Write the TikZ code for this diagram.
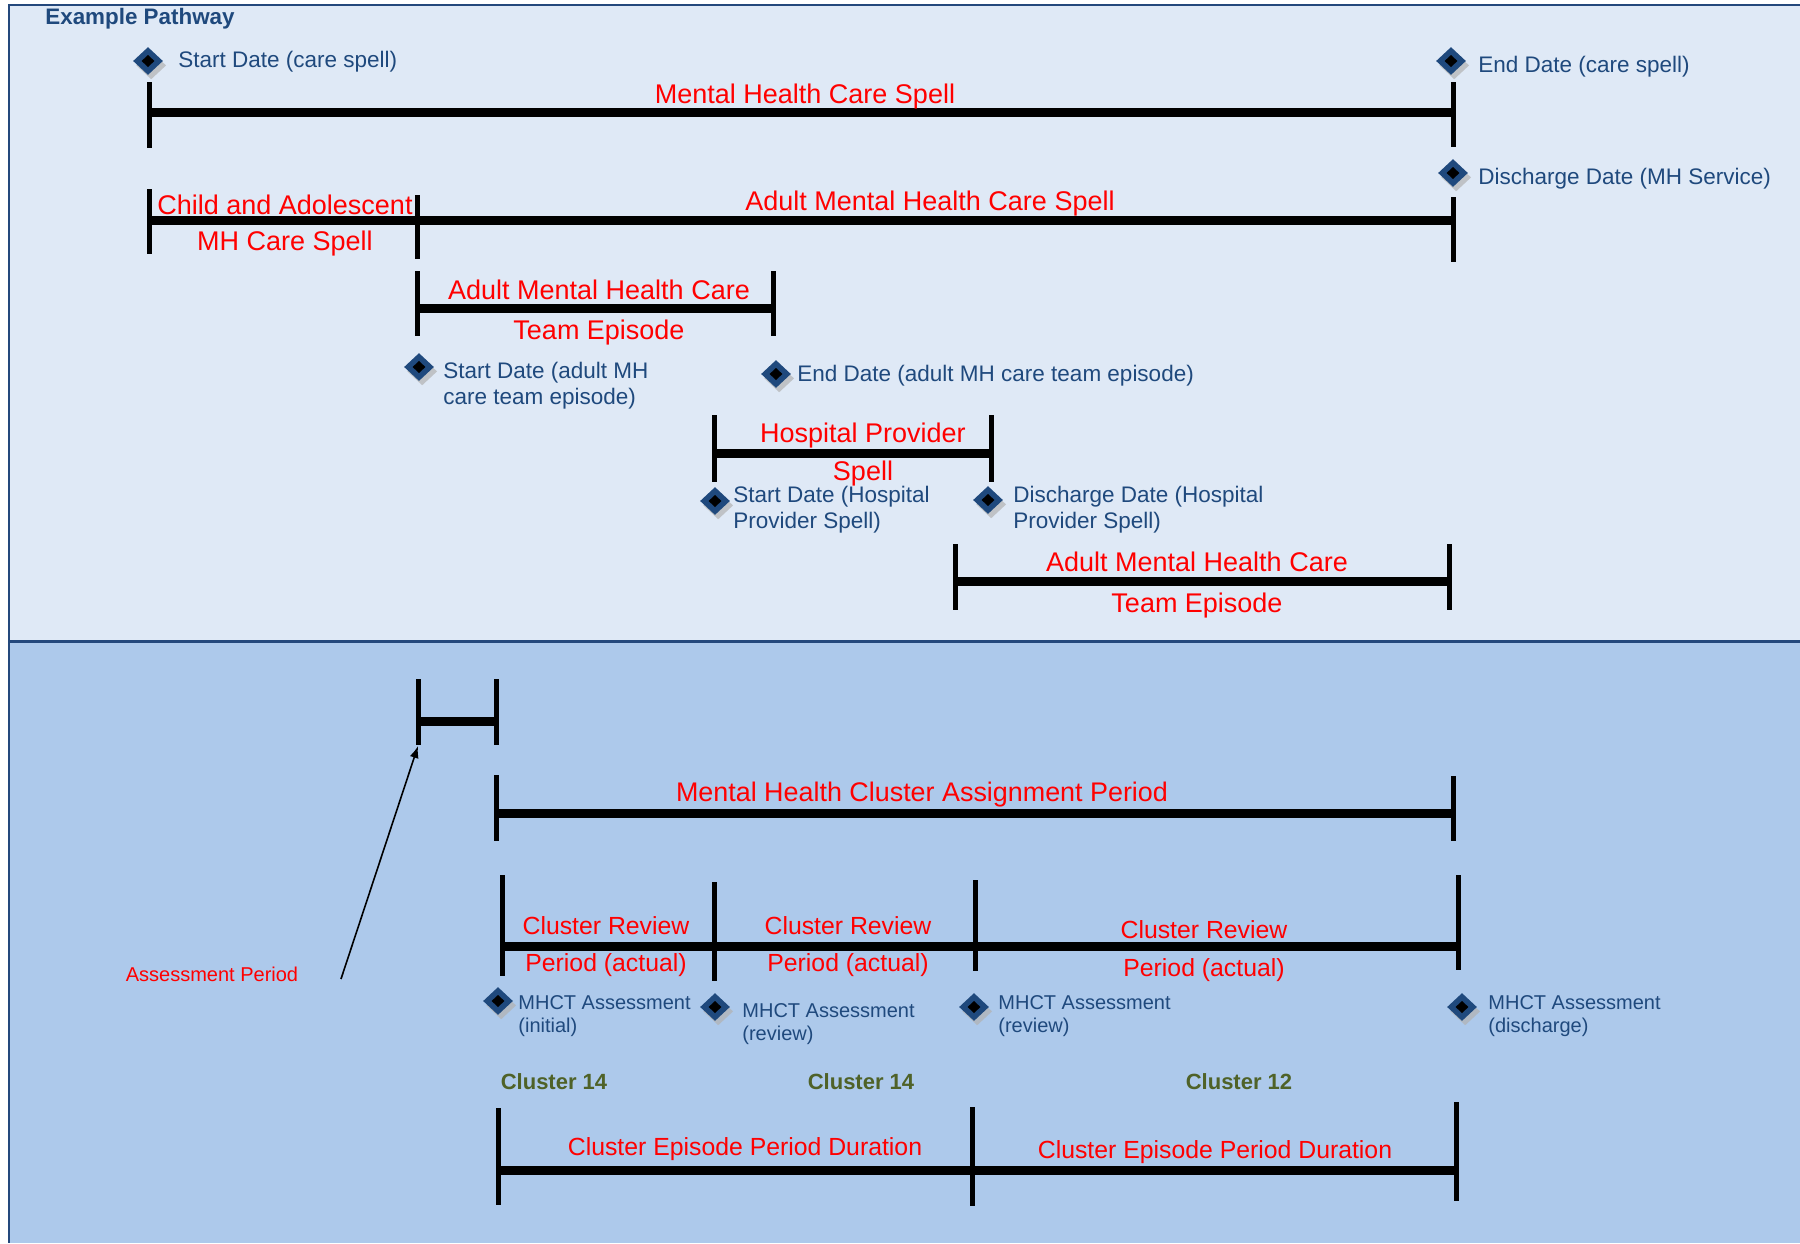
\documentclass[tikz,border=0pt]{standalone}
\usepackage{fontspec}
\setmainfont{Liberation Sans}
\usetikzlibrary{shapes.geometric,shadows,arrows.meta}

\definecolor{navytext}{RGB}{31,73,125}
\definecolor{frameblue}{RGB}{36,72,124}
\definecolor{paneltop}{RGB}{223,233,246}
\definecolor{panelbottom}{RGB}{173,201,235}
\definecolor{clustergreen}{RGB}{79,98,40}
\definecolor{labelred}{RGB}{255,0,0}

\begin{document}
\begin{tikzpicture}[x=0.5pt,y=-0.5pt,
  bar/.style={line width=4.5pt},
  tickmark/.style={line width=2.5pt},
  spanlabel/.style={text=labelred,font=\fontsize{13.5}{15}\selectfont,inner sep=0pt,yshift=-1.6pt},
  smalllabel/.style={text=labelred,font=\fontsize{12.4}{14}\selectfont,inner sep=0pt,yshift=-1pt},
  datelabel/.style={text=navytext,font=\fontsize{11.25}{13}\selectfont,anchor=west,align=left,inner sep=0pt,yshift=-1pt},
  mhctlabel/.style={text=navytext,font=\fontsize{10}{11.5}\selectfont,anchor=west,align=left,inner sep=0pt,yshift=-1pt},
  clusterlabel/.style={text=clustergreen,font=\bfseries\fontsize{11}{13}\selectfont,inner sep=0pt,yshift=-0.5pt},
  marker/.style={diamond,fill=navytext,inner sep=0pt,minimum width=15pt,minimum height=14pt,
    drop shadow={shadow xshift=1.6pt,shadow yshift=-2.2pt,fill=black!30,opacity=0.7},
    path picture={\fill[black] (path picture bounding box.center)
      ++(-3.2pt,0pt) -- ++(3.2pt,3pt) -- ++(3.2pt,-3pt) -- ++(-3.2pt,-3pt) -- cycle;}}
]
\useasboundingbox (0,0) rectangle (1800,1243);

% panels
\fill[paneltop] (9,5) rectangle (1800,641);
\fill[panelbottom] (9,641) rectangle (1800,1243);
\draw[frameblue,line width=1pt] (1800,5) -- (9,5) -- (9,1243);
\draw[frameblue,line width=1.5pt] (9,641) -- (1800,641);

\node[text=navytext,font=\bfseries\fontsize{11.2}{13}\selectfont,anchor=west,inner sep=0pt] (title) at (45,19) {Example Pathway};

% ---------- care spell ----------
\coordinate (aL) at (149,112);
\coordinate (aR) at (1453,112);
\draw[bar] (aL) -- (aR);
\draw[tickmark] (aL) ++(0,-30) -- ++(0,66);
\draw[tickmark] (aR) ++(0,-30) -- ++(0,65);
\node[spanlabel] (aLab) at (805,93) {Mental Health Care Spell};

\node[marker] (mStart) at (148,61) {};
\node[datelabel] (tStart) at (178,60) {Start Date (care spell)};
\node[marker] (mEnd) at (1451,61) {};
\node[datelabel] (tEnd) at (1478,65) {End Date (care spell)};
\node[marker] (mDis) at (1453,173) {};
\node[datelabel] (tDis) at (1478,177) {Discharge Date (MH Service)};

% ---------- child / adult care spells ----------
\coordinate (bL) at (149,220);
\coordinate (bR) at (417,220);
\coordinate (cR) at (1453,220);
\draw[bar] (bL) -- (bR) -- (cR);
\draw[tickmark] (bL) ++(0,-31) -- ++(0,65);
\draw[tickmark] (bR) ++(0,-25) -- ++(0,64);
\draw[tickmark] (cR) ++(0,-23) -- ++(0,65);
\node[spanlabel] (bLab1) at (285,202) {Child and Adolescent};
\node[spanlabel] (bLab2) at (285,240) {MH Care Spell};
\node[spanlabel] (cLab) at (930,200) {Adult Mental Health Care Spell};

% ---------- first team episode ----------
\coordinate (dL) at (417,308);
\coordinate (dR) at (773,308);
\draw[bar] (dL) -- (dR);
\draw[tickmark] (dL) ++(0,-37) -- ++(0,65);
\draw[tickmark] (dR) ++(0,-37) -- ++(0,65);
\node[spanlabel] (dLab1) at (599,287) {Adult Mental Health Care};
\node[spanlabel] (dLab2) at (599,329) {Team Episode};

\node[marker] (mTeamStart) at (419,367) {};
\node[datelabel] (tTeamStart) at (443,384) {Start Date (adult MH\\care team episode)};
\node[marker] (mTeamEnd) at (776,374) {};
\node[datelabel] (tTeamEnd) at (797,374) {End Date (adult MH care team episode)};

% ---------- hospital provider spell ----------
\coordinate (eL) at (714,453);
\coordinate (eR) at (991,453);
\draw[bar] (eL) -- (eR);
\draw[tickmark] (eL) ++(0,-38) -- ++(0,67);
\draw[tickmark] (eR) ++(0,-38) -- ++(0,67);
\node[spanlabel] (eLab1) at (863,432) {Hospital Provider};
\node[spanlabel] (eLab2) at (863,470) {Spell};

\node[marker] (mHospStart) at (715,501) {};
\node[datelabel] (tHospStart) at (733,508) {Start Date (Hospital\\Provider Spell)};
\node[marker] (mHospEnd) at (988,500) {};
\node[datelabel] (tHospEnd) at (1013,508) {Discharge Date (Hospital\\Provider Spell)};

% ---------- second team episode ----------
\coordinate (fL) at (955,581);
\coordinate (fR) at (1449,581);
\draw[bar] (fL) -- (fR);
\draw[tickmark] (fL) ++(0,-37) -- ++(0,66);
\draw[tickmark] (fR) ++(0,-37) -- ++(0,66);
\node[spanlabel] (fLab1) at (1197,559) {Adult Mental Health Care};
\node[spanlabel] (fLab2) at (1197,602) {Team Episode};

% ---------- assessment period ----------
\coordinate (gL) at (418,721);
\coordinate (gR) at (496,721);
\coordinate (gTip) at (418,746);
\draw[bar] (gL) -- (gR);
\draw[tickmark] (gL) ++(0,-42) -- ++(0,66);
\draw[tickmark] (gR) ++(0,-42) -- ++(0,66);
\node[text=labelred,font=\fontsize{10}{12}\selectfont,inner sep=0pt] (apLab) at (212,974) {Assessment Period};
\coordinate (apTail) at (341,979);
\draw[line width=0.8pt,-{Latex[length=6pt,width=4.5pt]}] (apTail) -- (gTip);

% ---------- cluster assignment period ----------
\coordinate (hL) at (496,813);
\coordinate (hR) at (1453,813);
\draw[bar] (hL) -- (hR);
\draw[tickmark] (hL) ++(0,-38) -- ++(0,66);
\draw[tickmark] (hR) ++(0,-37) -- ++(0,65);
\node[spanlabel,font=\fontsize{13.45}{15}\selectfont] (hLab) at (922,791) {Mental Health Cluster Assignment Period};

% ---------- cluster review periods ----------
\coordinate (i1) at (502,946);
\coordinate (i2) at (714,946);
\coordinate (i3) at (975,946);
\coordinate (i4) at (1458,946);
\draw[bar] (i1) -- (i2) -- (i3) -- (i4);
\draw[tickmark] (i1) ++(0,-71) -- ++(0,101);
\draw[tickmark] (i2) ++(0,-64) -- ++(0,99);
\draw[tickmark] (i3) ++(0,-66) -- ++(0,91);
\draw[tickmark] (i4) ++(0,-71) -- ++(0,95);
\node[smalllabel] (iLab1a) at (606,924) {Cluster Review};
\node[smalllabel] (iLab1b) at (606,963) {Period (actual)};
\node[smalllabel] (iLab2a) at (848,924) {Cluster Review};
\node[smalllabel] (iLab2b) at (848,963) {Period (actual)};
\node[smalllabel] (iLab3a) at (1204,928) {Cluster Review};
\node[smalllabel] (iLab3b) at (1204,968) {Period (actual)};

\node[marker] (mA1) at (498,1001) {};
\node[mhctlabel] (tA1) at (518,1014) {MHCT Assessment\\(initial)};
\node[marker] (mA2) at (715,1007) {};
\node[mhctlabel] (tA2) at (742,1022) {MHCT Assessment\\(review)};
\node[marker] (mA3) at (974,1007) {};
\node[mhctlabel] (tA3) at (998,1014) {MHCT Assessment\\(review)};
\node[marker] (mA4) at (1462,1007) {};
\node[mhctlabel] (tA4) at (1488,1014) {MHCT Assessment\\(discharge)};

% ---------- clusters ----------
\node[clusterlabel] (c1) at (554,1081) {Cluster 14};
\node[clusterlabel] (c2) at (861,1081) {Cluster 14};
\node[clusterlabel] (c3) at (1239,1081) {Cluster 12};

% ---------- cluster episode periods ----------
\coordinate (j1) at (498,1170);
\coordinate (j2) at (972,1170);
\coordinate (j3) at (1456,1170);
\draw[bar] (j1) -- (j2) -- (j3);
\draw[tickmark] (j1) ++(0,-62) -- ++(0,97);
\draw[tickmark] (j2) ++(0,-63) -- ++(0,99);
\draw[tickmark] (j3) ++(0,-68) -- ++(0,99);
\node[smalllabel] (jLab1) at (745,1147) {Cluster Episode Period Duration};
\node[smalllabel] (jLab2) at (1215,1150) {Cluster Episode Period Duration};
\end{tikzpicture}
\end{document}
